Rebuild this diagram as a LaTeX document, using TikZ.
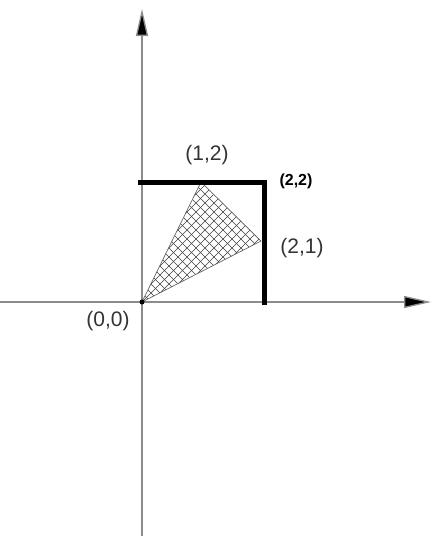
\documentclass[tikz,border=0pt]{standalone}
\usepackage{fontspec}
\setmainfont{Liberation Sans}
\usetikzlibrary{arrows.meta}
\begin{document}
\begin{tikzpicture}[x=1pt,y=-1pt,
  axis/.style={draw=black!45,line width=1.3pt,-{Triangle[length=27pt,width=12pt,fill=black]}},
  thick box/.style={line width=5pt,black},
  lbl/.style={font=\fontsize{21}{24}\selectfont,text=black!80,inner sep=1pt},
  hatch/.style={draw=black!75,line width=0.6pt}]
\useasboundingbox (0,0) rectangle (432,536);
% axes
\coordinate (ybot) at (142,536);
\coordinate (ytop) at (142,9);
\coordinate (xleft) at (0,302);
\coordinate (xright) at (431,302);
\draw[axis] (ybot) -- (ytop);
\draw[axis] (xleft) -- (xright);
% points
\coordinate (O) at (142,302);
\coordinate (A) at (201,182);
\coordinate (B) at (261,241);
% hatched triangle
\begin{scope}
  \clip (O) -- (A) -- (B) -- cycle;
  \foreach \k in {-306,-297,...,306}{
    \draw[hatch] (142+\k,302) -- ++(300,-300);
    \draw[hatch] (142+\k,302) -- ++(-300,-300);
  }
\end{scope}
\draw[draw=black!60,line width=0.7pt] (O) -- (A) -- (B) -- cycle;
\fill (O) circle (2.5pt);
% thick box
\coordinate (tl) at (138,182);
\coordinate (tr) at (264,182);
\coordinate (br) at (264,305);
\draw[thick box,line cap=butt,line join=miter] (tl) -- (tr) -- (br);
% labels
\node[lbl] (l12) at (207,155) {(1,2)};
\node[lbl,font=\fontsize{16}{18}\selectfont\bfseries,text=black] (l22) at (296,181) {(2,2)};
\node[lbl] (l21) at (302,248) {(2,1)};
\node[lbl] (l00) at (108,321) {(0,0)};
\end{tikzpicture}
\end{document}
